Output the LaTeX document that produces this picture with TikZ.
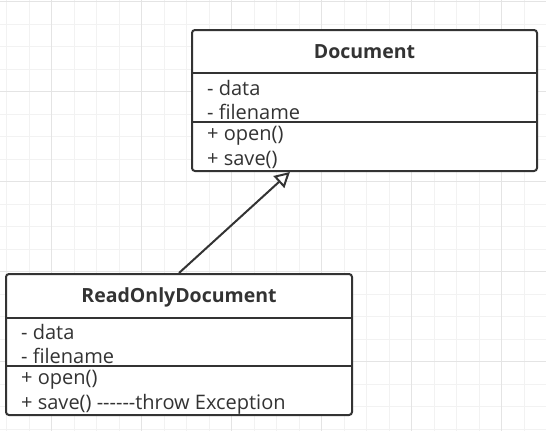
\documentclass[tikz,border=0pt]{standalone}
\usepackage{fontspec}
\setmainfont{Open Sans}
\usetikzlibrary{calc,arrows.meta}

\definecolor{linegray}{HTML}{333333}
\definecolor{minorgray}{HTML}{F2F2F2}
\definecolor{majorgray}{HTML}{E4E4E4}

\tikzset{
  classbox/.style={draw=linegray, line width=2pt, rounded corners=3pt, fill=white, inner sep=0pt},
  member/.style={anchor=west, inner sep=0pt, text=linegray, font=\fontsize{20}{22}\selectfont},
  classname/.style={inner sep=0pt, text=linegray, font=\fontsize{19.5}{22}\selectfont\bfseries},
  divider/.style={draw=linegray, line width=2pt},
}

\begin{document}
\begin{tikzpicture}[x=1pt,y=-1pt]
  \useasboundingbox[fill=white] (0,0) rectangle (546,431);

  %% Background grid
  \foreach \i in {0,...,23}
    \draw[minorgray, line width=1pt] (6.7+22.5*\i,0) -- ++(0,431);
  \foreach \j in {0,...,19}
    \draw[minorgray, line width=1pt] (0,1.7+22.5*\j) -- ++(546,0);
  \foreach \i in {0,1,...,5}
    \draw[majorgray, line width=1pt] (51.7+90*\i,0) -- ++(0,431);
  \foreach \j in {0,1,...,4}
    \draw[majorgray, line width=1pt] (0,1.7+90*\j) -- ++(546,0);

  %% Class boxes
  \node[classbox, minimum width=345pt, minimum height=141pt] (doc) at (364.5,100.5) {};
  \node[classbox, minimum width=346pt, minimum height=141pt] (rod) at (179,344.5) {};

  %% Document
  \node[classname] (docname) at ($(doc.north)+(0,23)$) {Document};
  \draw[divider] ($(doc.north west)+(0,44)$) -- ($(doc.north east)+(0,44)$);
  \draw[divider] ($(doc.north west)+(0,93)$) -- ($(doc.north east)+(0,93)$);
  \foreach \txt [count=\k] in {- data, - filename, + open(), + save()}
    \node[member] (docm\k) at ($(doc.north west)+(16,35+24*\k)$) {\txt};

  %% ReadOnlyDocument
  \node[classname] (rodname) at ($(rod.north)+(0,24)$) {ReadOnlyDocument};
  \draw[divider] ($(rod.north west)+(0,45)$) -- ($(rod.north east)+(0,45)$);
  \draw[divider] ($(rod.north west)+(0,93)$) -- ($(rod.north east)+(0,93)$);
  \foreach \txt [count=\k] in {- data, - filename, + open(), + save() -{}-{}-{}-{}-{}-throw Exception}
    \node[member] (rodm\k) at ($(rod.north west)+(16,35+24*\k)$) {\txt};

  %% Inheritance
  \coordinate (docin) at ($(doc.south west)!0.285!(doc.south east)$);
  \draw[linegray, line width=2pt, -{Triangle[fill=white, length=15pt, width=16pt]}] (rod.north) -- (docin);
\end{tikzpicture}
\end{document}
